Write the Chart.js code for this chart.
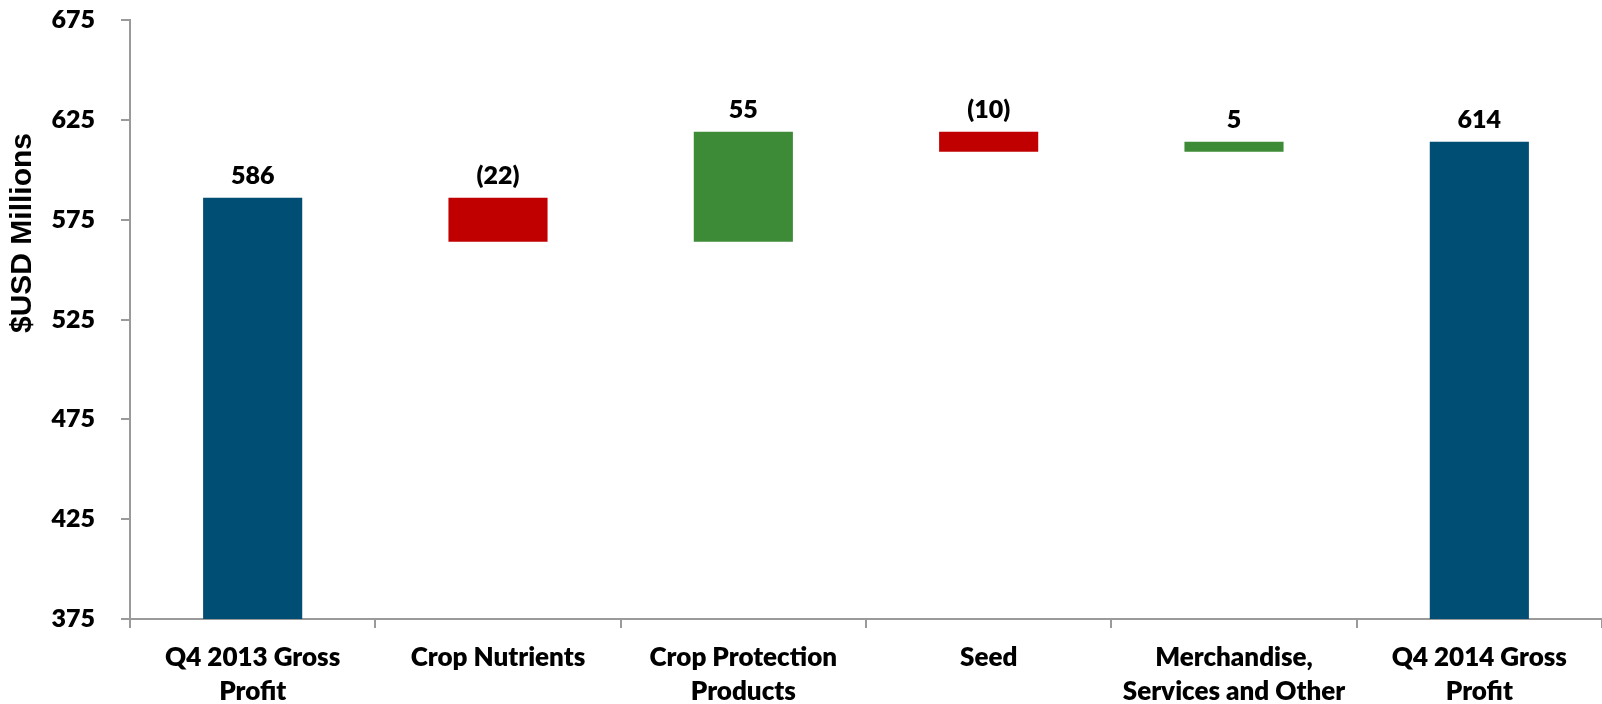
<!DOCTYPE html>
<html>
<head>
<meta charset="utf-8">
<script src="https://cdn.jsdelivr.net/npm/chart.js@4/dist/chart.umd.min.js"></script>
<style>
  html, body { margin: 0; padding: 0; background: #ffffff; }
  #wrap { width: 1602px; height: 704px; position: relative; }
</style>
</head>
<body>
<div id="wrap"><canvas id="chart"></canvas></div>
<script>
// Gross profit bridge, $USD millions
const categories = [
  ['Q4 2013 Gross', 'Profit'],
  'Crop Nutrients',
  ['Crop Protection', 'Products'],
  'Seed',
  ['Merchandise,', 'Services and Other'],
  ['Q4 2014 Gross', 'Profit']
];
// 'total' bars start at the axis floor; 'delta' bars float on the running sum
const barKinds = ['total', 'delta', 'delta', 'delta', 'delta', 'total'];
const barValues = [586, -22, 55, -10, 5, 614];
const yTicks = [375, 425, 475, 525, 575, 625, 675];

const colorTotal = '#004E73';
const colorUp = '#3E8B37';
const colorDown = '#C00000';
const axisGrey = '#9A9A9A';
const textWeight = 800;

const floor = yTicks[0];
let running = 0;
const ranges = [];
const colors = [];
barValues.forEach((v, i) => {
  if (barKinds[i] === 'total') {
    running = v;
    ranges.push([floor, v]);
    colors.push(colorTotal);
  } else {
    const start = running;
    running += v;
    ranges.push([Math.min(start, running), Math.max(start, running)]);
    colors.push(v >= 0 ? colorUp : colorDown);
  }
});

function valueText(i) {
  const v = barValues[i];
  return v < 0 ? '(' + Math.abs(v) + ')' : String(v);
}

// Value label above each bar
const barLabels = {
  id: 'barLabels',
  afterDatasetsDraw(chart) {
    const ctx = chart.ctx;
    const meta = chart.getDatasetMeta(0);
    ctx.save();
    ctx.font = textWeight + ' 25px Lato';
    ctx.fillStyle = '#000000';
    ctx.textAlign = 'center';
    ctx.textBaseline = 'bottom';
    meta.data.forEach((bar, i) => {
      const top = chart.scales.y.getPixelForValue(ranges[i][1]);
      ctx.fillText(valueText(i), bar.x, top - 9);
    });
    ctx.restore();
  }
};

// Rotated axis title
const yTitle = {
  id: 'yTitle',
  afterDraw(chart) {
    const ctx = chart.ctx;
    ctx.save();
    ctx.translate(23, 233);
    ctx.rotate(-Math.PI / 2);
    ctx.font = 'bold 30px "Liberation Sans"';
    ctx.fillStyle = '#000000';
    ctx.textAlign = 'center';
    ctx.textBaseline = 'middle';
    ctx.fillText('$USD Millions', 0, 0);
    ctx.restore();
  }
};

new Chart(document.getElementById('chart'), {
  type: 'bar',
  data: {
    labels: categories,
    datasets: [{
      data: ranges,
      backgroundColor: colors,
      borderWidth: 0,
      categoryPercentage: 1.0,
      barPercentage: 0.404
    }]
  },
  options: {
    responsive: true,
    maintainAspectRatio: false,
    animation: false,
    layout: { padding: { top: 0, left: 0, right: 0, bottom: 0 } },
    plugins: {
      legend: { display: false },
      tooltip: { enabled: false }
    },
    scales: {
      x: {
        afterFit(scale) {
          scale.height = 85;
          scale.paddingRight = 0;
        },
        grid: {
          display: true,
          drawOnChartArea: false,
          drawTicks: true,
          tickLength: 9,
          color: axisGrey,
          lineWidth: 2,
          offset: true
        },
        border: { display: true, color: axisGrey, width: 2 },
        ticks: {
          color: '#000000',
          font: { family: 'Lato', weight: textWeight, size: 26, lineHeight: 1.31 },
          padding: 13,
          maxRotation: 0,
          autoSkip: false
        }
      },
      y: {
        min: 375,
        max: 675,
        afterFit(scale) {
          scale.width = 130;
          scale.paddingTop = 20;
          scale.paddingBottom = 0;
        },
        afterBuildTicks(scale) { scale.ticks = yTicks.map(v => ({ value: v })); },
        grid: {
          display: true,
          drawOnChartArea: false,
          drawTicks: true,
          tickLength: 9,
          color: axisGrey,
          lineWidth: 2
        },
        border: { display: true, color: axisGrey, width: 2 },
        ticks: {
          color: '#000000',
          font: { family: 'Lato', weight: textWeight, size: 25 },
          padding: 26
        }
      }
    }
  },
  plugins: [barLabels, yTitle]
});
</script>
</body>
</html>
